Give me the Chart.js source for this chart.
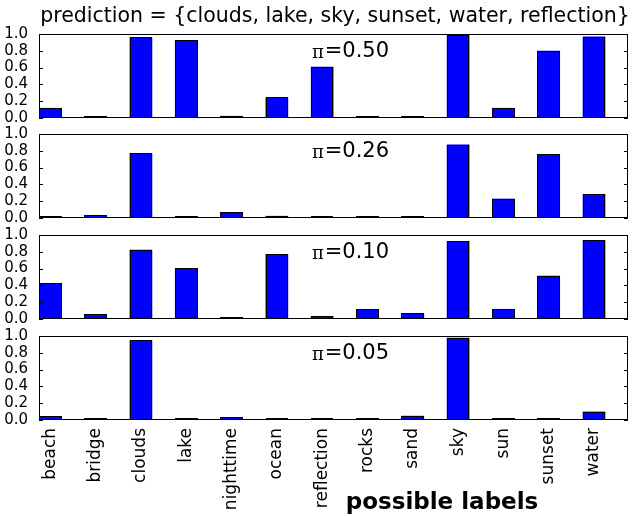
<!DOCTYPE html>
<html lang="en">
<head>
    <meta charset="UTF-8">
    <title>Label predictions</title>
    <script src="https://cdn.jsdelivr.net/npm/chart.js"></script>
    <style>
        html, body { margin: 0; padding: 0; background: #fff; }
        #wrap { position: relative; width: 635px; height: 516px; }
        #wrap canvas { position: absolute; left: 0; top: 0; }
    </style>
</head>
<body>
    <div id="wrap">
        <canvas id="p0" width="635" height="516"></canvas>
        <canvas id="p1" width="635" height="516"></canvas>
        <canvas id="p2" width="635" height="516"></canvas>
        <canvas id="p3" width="635" height="516"></canvas>
    </div>

    <script>
        const categories = ['beach', 'bridge', 'clouds', 'lake', 'nighttime', 'ocean', 'reflection',
                            'rocks', 'sand', 'sky', 'sun', 'sunset', 'water'];
        const pi050 = [0.12, 0.02, 0.96, 0.93, 0.025, 0.245, 0.61, 0.01, 0.005, 0.99, 0.12, 0.80, 0.97];
        const pi026 = [0.005, 0.03, 0.775, 0.01, 0.07, 0.025, 0.01, 0.003, 0.003, 0.875, 0.23, 0.76, 0.285];
        const pi010 = [0.425, 0.055, 0.825, 0.605, 0.008, 0.775, 0.036, 0.115, 0.068, 0.93, 0.12, 0.515, 0.935];
        const pi005 = [0.045, 0.012, 0.95, 0.01, 0.03, 0.01, 0.005, 0.015, 0.05, 0.98, 0.01, 0.012, 0.10];
        const piValues = ['0.50', '0.26', '0.10', '0.05'];
        const yTicks = [0, 0.2, 0.4, 0.6, 0.8, 1.0];
        const titleText = 'prediction = {clouds, lake, sky, sunset, water, reflection}';
        const xTitle = 'possible labels';

        const series = [pi050, pi026, pi010, pi005];
        // bars sit on the left half of each unit: x = i .. i+0.5
        const barCenters = categories.map((c, i) => i + 0.25);

        const panelTops = [34, 134, 235, 336];
        const panelH = 84;

        // bar edges (also for near-zero bars), box frame, inward ticks, texts
        const decorations = {
            id: 'decorations',
            afterDatasetsDraw(chart) {
                const ctx = chart.ctx;
                ctx.save();
                ctx.strokeStyle = '#000';
                ctx.lineWidth = 1;
                chart.getDatasetMeta(0).data.forEach(bar => {
                    const p = bar.getProps(['x', 'y', 'base', 'width'], true);
                    const l = Math.round(p.x - p.width / 2) + 0.5;
                    const r = Math.round(p.x + p.width / 2) - 0.5;
                    const b = Math.round(p.base) - 0.5;
                    const t = Math.min(Math.round(p.y) + 0.5, b - 1);
                    ctx.strokeRect(l, t, r - l, b - t);
                });
                ctx.restore();
            },
            afterDraw(chart, args, opts) {
                const ctx = chart.ctx;
                const a = chart.chartArea;
                const ys = chart.scales.y;
                ctx.save();
                ctx.strokeStyle = '#000';
                ctx.lineWidth = 1;
                ctx.strokeRect(Math.round(a.left) + 0.5, Math.round(a.top) + 0.5,
                               Math.round(a.width) - 1, Math.round(a.height) - 1);
                ctx.beginPath();
                yTicks.forEach(v => {
                    const y = Math.round(ys.getPixelForValue(v)) + 0.5;
                    ctx.moveTo(a.left, y); ctx.lineTo(a.left + 4, y);
                    ctx.moveTo(a.right - 4, y); ctx.lineTo(a.right, y);
                });
                ctx.stroke();

                // pi = value
                ctx.fillStyle = '#000';
                ctx.textBaseline = 'middle';
                const piFont = '18px "DejaVu Serif"';
                const numFont = '21px "DejaVu Sans"';
                const rest = '=' + opts.pi;
                ctx.font = piFont;
                const w1 = ctx.measureText('π').width;
                ctx.font = numFont;
                const w2 = ctx.measureText(rest).width;
                const cx = a.left + 0.528 * a.width;
                const cy = a.top + 18;
                const x = cx - (w1 + w2) / 2;
                ctx.textAlign = 'left';
                ctx.font = piFont;
                ctx.fillText('π', x, cy + 1);
                ctx.font = numFont;
                ctx.fillText(rest, x + w1 + 1, cy);

                if (opts.title) {
                    ctx.textAlign = 'center';
                    ctx.font = '20.5px "DejaVu Sans"';
                    ctx.fillText(titleText, 335, 17);
                }
                if (opts.xtitle) {
                    ctx.textAlign = 'center';
                    ctx.font = 'bold 23px "Comic Sans MS", "DejaVu Sans"';
                    ctx.fillText(xTitle, 442, 503);
                }
                ctx.restore();
            }
        };

        series.forEach((vals, k) => {
            const last = k === series.length - 1;
            const top = panelTops[k];
            new Chart(document.getElementById('p' + k), {
                type: 'bar',
                data: {
                    datasets: [{
                        data: vals.map((v, i) => ({ x: barCenters[i], y: v })),
                        backgroundColor: '#0000ff',
                        borderWidth: 0,
                        inflateAmount: 0,
                        barPercentage: 0.5,
                        categoryPercentage: 1.0
                    }]
                },
                plugins: [decorations],
                options: {
                    responsive: false,
                    animation: false,
                    layout: { padding: { left: 0, right: 7, top: top, bottom: last ? 0 : 516 - top - panelH } },
                    plugins: {
                        legend: { display: false },
                        tooltip: { enabled: false },
                        decorations: { pi: piValues[k], title: k === 0, xtitle: last }
                    },
                    scales: {
                        x: {
                            type: 'linear',
                            offset: false,
                            min: 0,
                            max: categories.length,
                            afterBuildTicks: s => { s.ticks = barCenters.map(v => ({ value: v })); },
                            afterFit: s => { s.height = last ? 516 - top - panelH : 0; },
                            grid: { display: false },
                            border: { display: false },
                            ticks: {
                                display: last,
                                autoSkip: false,
                                minRotation: 90,
                                maxRotation: 90,
                                padding: 0,
                                color: '#000',
                                font: { family: 'DejaVu Sans', size: 17 },
                                callback: (v, i) => categories[i]
                            }
                        },
                        y: {
                            min: 0,
                            max: 1,
                            afterBuildTicks: s => { s.ticks = yTicks.map(v => ({ value: v })); },
                            afterFit: s => { s.width = 39; },
                            grid: { display: false },
                            border: { display: false },
                            ticks: {
                                autoSkip: false,
                                padding: 3,
                                color: '#000',
                                font: { family: 'DejaVu Sans', size: 15 },
                                callback: v => v.toFixed(1)
                            }
                        }
                    }
                }
            });
        });
    </script>
</body>
</html>
